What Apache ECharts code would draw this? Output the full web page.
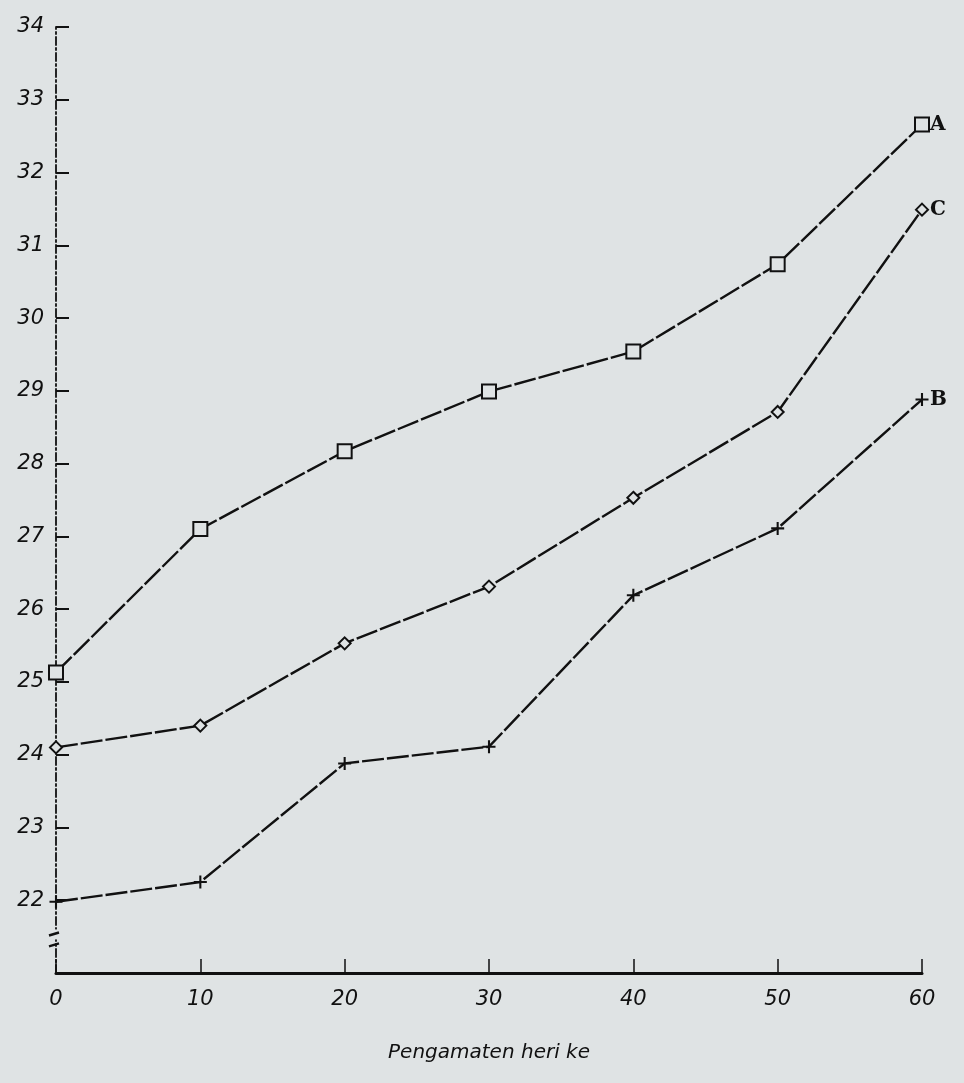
<!DOCTYPE html>
<html><head><meta charset="utf-8">
<script src="https://cdn.jsdelivr.net/npm/echarts@6/dist/echarts.min.js"></script>
<style>html,body{margin:0;padding:0;background:#dfe3e4}#c{width:964px;height:1083px}</style>
</head><body><div id="c"></div>
<script>
const days = [0, 10, 20, 30, 40, 50, 60];
const seriesA = [25.13, 27.10, 28.17, 28.99, 29.54, 30.74, 32.66];
const seriesC = [24.10, 24.40, 25.53, 26.31, 27.53, 28.71, 31.49];
const seriesB = [21.98, 22.25, 23.88, 24.11, 26.19, 27.11, 28.88];
const yTicks = [22, 23, 24, 25, 26, 27, 28, 29, 30, 31, 32, 33, 34];
const xTitle = 'Pengamaten heri ke';

const bg = '#dfe3e4';
const chart = echarts.init(document.getElementById('c'));
const plus = 'path://M4.2,0H5.8V4.2H10V5.8H5.8V10H4.2V5.8H0V4.2H4.2Z';
function mk(name, vals, symbol, size, filled) {
  return {
    name, type: 'line', data: days.map((d, i) => [d, vals[i]]),
    symbol, symbolSize: size, showAllSymbol: true,
    lineStyle: {color: '#111', width: 2.4, type: [22, 3]},
    itemStyle: filled ? {color: '#111'} : {color: bg, borderColor: '#111', borderWidth: 2},
    endLabel: {show: true, formatter: '{a}', color: '#111', fontFamily: 'DejaVu Serif', fontWeight: 'bold', fontSize: 20, distance: 8},
    z: 3
  };
}
chart.setOption({
  backgroundColor: bg,
  animation: false,
  grid: {left: 56, right: 42, top: 27, bottom: 110, containLabel: false},
  xAxis: {
    type: 'value', min: 0, max: 60, interval: 10,
    name: xTitle, nameLocation: 'middle', nameGap: 70,
    nameTextStyle: {fontFamily: 'DejaVu Sans', fontStyle: 'italic', fontSize: 20, color: '#111'},
    axisLine: {lineStyle: {color: '#111', width: 3}},
    axisTick: {inside: true, length: 14, lineStyle: {color: '#111', width: 1.5}},
    axisLabel: {fontFamily: 'DejaVu Sans', fontStyle: 'italic', fontSize: 21, color: '#111', margin: 16},
    splitLine: {show: false}
  },
  yAxis: {
    type: 'value', min: 21, max: 34, interval: 1,
    axisLine: {lineStyle: {color: '#111', width: 1.8, type: [8, 3, 2, 3]}},
    axisTick: {inside: true, length: 13, lineStyle: {color: '#111', width: 2}},
    axisLabel: {fontFamily: 'DejaVu Sans', fontStyle: 'italic', fontSize: 21, color: '#111', margin: 12,
      formatter: v => yTicks.includes(v) ? String(v) : ''},
    splitLine: {show: false}
  },
  series: [
    mk('A', seriesA, 'rect', 14, false),
    mk('C', seriesC, 'diamond', 12, false),
    mk('B', seriesB, plus, 13, true)
  ]
});
// axis break marks drawn from axis scale
const p1 = chart.convertToPixel({gridIndex: 0}, [0, 21.53]);
const p2 = chart.convertToPixel({gridIndex: 0}, [0, 21.38]);
chart.setOption({graphic: [
  {type: 'rect', shape: {x: p1[0] - 6, y: p1[1] - 5, width: 12, height: 10}, style: {fill: bg}, z: 10},
  {type: 'line', shape: {x1: p1[0] - 7, y1: p1[1] + 1, x2: p1[0] + 3, y2: p1[1] - 2}, style: {stroke: '#111', lineWidth: 2.5}, z: 11},
  {type: 'line', shape: {x1: p2[0] - 7, y1: p2[1] + 1, x2: p2[0] + 3, y2: p2[1] - 2}, style: {stroke: '#111', lineWidth: 2.5}, z: 11}
]});
</script></body></html>
